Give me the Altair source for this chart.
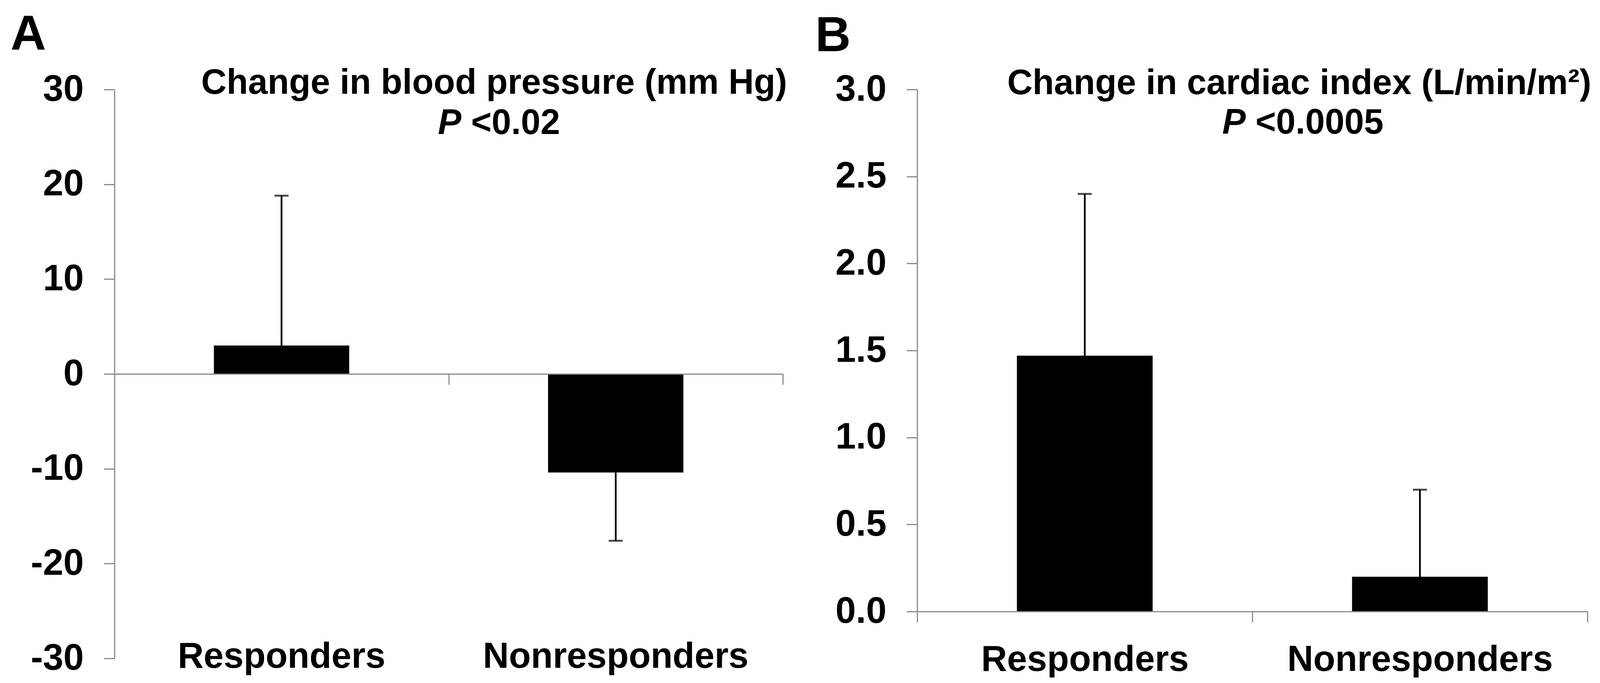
import altair as alt
import pandas as pd

# ---- data ----
categories = ["Responders", "Nonresponders"]
bp_means = [3.0, -10.4]            # change in blood pressure (mm Hg)
bp_whisker_ends = [18.8, -17.6]    # end of the one-sided error bars
ci_means = [1.47, 0.20]            # change in cardiac index (L/min/m2)
ci_whisker_ends = [2.40, 0.70]

bp_ticks = [-30, -20, -10, 0, 10, 20, 30]
ci_ticks = [0.0, 0.5, 1.0, 1.5, 2.0, 2.5, 3.0]

bp_title = "Change in blood pressure (mm Hg)"
bp_p = "<0.02"
ci_title = "Change in cardiac index (L/min/m\u00b2)"
ci_p = "<0.0005"

FONT = "Liberation Sans"
GRAY = "#8a8a8a"
BLACK = "#000000"

A_W, A_H = 1711, 1456
B_W, B_H = 1716, 1336


def text_layer(txt, x, y, size=90, align="center", style="normal"):
    return alt.Chart(pd.DataFrame({"t": [txt]})).mark_text(
        font=FONT, fontSize=size, fontWeight="bold", fontStyle=style,
        align=align, baseline="alphabetic", color=BLACK
    ).encode(text="t:N", x=alt.value(x), y=alt.value(y))


def panel(means, ends, ydomain, yticks, label_expr, width, height, xaxis, letter,
          letter_pos, title, title_pos, pval, p_pos, low_labels):
    df = pd.DataFrame({"cat": categories, "mean": means, "end": ends})
    yaxis = alt.Axis(
        values=yticks, labelExpr=label_expr, title=None, grid=False,
        labelFont=FONT, labelFontSize=94, labelFontWeight="bold", labelColor=BLACK,
        labelPadding=52, tickSize=27, tickWidth=3, tickColor=GRAY,
        domainColor=GRAY, domainWidth=3,
    )
    yscale = alt.Scale(domain=ydomain, nice=False, zero=False)
    xscale = alt.Scale(domain=categories, paddingInner=0, paddingOuter=0)
    xenc = alt.X("cat:N", sort=categories, scale=xscale, axis=xaxis)

    base = alt.Chart(df)
    bars = base.mark_bar(color=BLACK, width=alt.RelativeBandSize(0.405)).encode(
        x=xenc, y=alt.Y("mean:Q", scale=yscale, axis=yaxis)
    )
    whisk = base.mark_rule(color=BLACK, strokeWidth=4.5).encode(
        x=xenc, y=alt.Y("mean:Q", scale=yscale, axis=yaxis), y2="end:Q"
    )
    caps = base.mark_tick(color=BLACK, thickness=5, size=36).encode(
        x=xenc, y=alt.Y("end:Q", scale=yscale, axis=yaxis)
    )
    layers = [bars, whisk, caps]
    if low_labels:
        labels = base.mark_text(
            font=FONT, fontSize=92, fontWeight="bold", color=BLACK,
            baseline="alphabetic", dy=24
        ).encode(x=xenc, y=alt.Y(datum=ydomain[0], scale=yscale, axis=yaxis), text="cat:N")
        layers.append(labels)
    layers += [
        text_layer(letter, letter_pos[0], letter_pos[1], size=126, align="left"),
        text_layer(title, title_pos[0], title_pos[1]),
        text_layer("P", p_pos[0], p_pos[2], align="left", style="italic"),
        text_layer(pval, p_pos[1], p_pos[2], align="left"),
    ]
    return alt.layer(*layers).properties(width=width, height=height)


axis_a = alt.Axis(
    orient="bottom", offset=-728, labels=False, title=None, tickBand="extent",
    tickSize=27, tickWidth=3, tickColor=GRAY, domainColor=GRAY, domainWidth=3,
    zindex=1,
)
axis_b = alt.Axis(
    orient="bottom", title=None, tickBand="extent",
    tickSize=27, tickWidth=3, tickColor=GRAY, domainColor=GRAY, domainWidth=3,
    labelFont=FONT, labelFontSize=92, labelFontWeight="bold", labelColor=BLACK,
    labelPadding=51, labelAngle=0, labelLimit=0, zindex=1,
)

neg_expr = "datum.value < 0 ? '-' + format(abs(datum.value), 'd') : format(datum.value, 'd')"
dec_expr = "format(datum.value, '.1f')"

panel_a = panel(bp_means, bp_whisker_ends, [-30, 30], bp_ticks, neg_expr, A_W, A_H, axis_a,
                "A", (-266, -102), bp_title, (972, 10.5), bp_p, (828, 913, 113.5), True)
panel_b = panel(ci_means, ci_whisker_ends, [0, 3], ci_ticks, dec_expr, B_W, B_H, axis_b,
                "B", (-261, -98), ci_title, (978, 12), ci_p, (781, 866, 113.4), False)

chart = alt.hconcat(panel_a, panel_b, spacing=344, bounds="flush").properties(
    padding={"left": 19, "top": 18, "right": 0, "bottom": 0},
    background="white",
).configure_view(stroke=None)

chart.save("out.html", embed_options={"renderer": "svg", "actions": False})
